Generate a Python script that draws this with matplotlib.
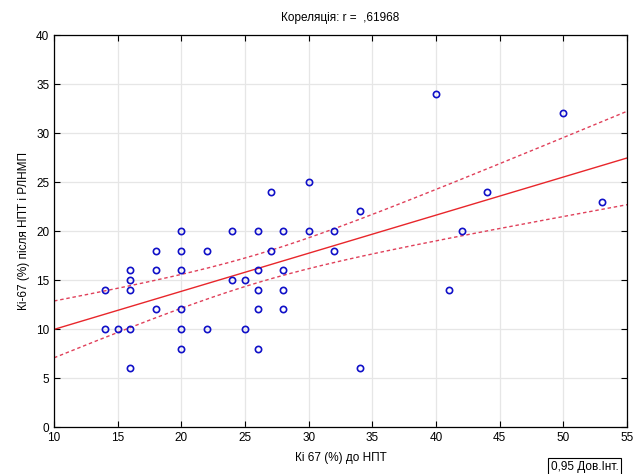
import matplotlib.pyplot as plt
import numpy as np

plt.rcParams['font.family'] = ['Liberation Sans', 'DejaVu Sans']

# Ki-67 before (x) and after (y)
ki_before = [14, 14, 15, 16, 16, 16, 16, 16, 18, 18, 18, 20, 20, 20, 20, 20, 20,
             22, 22, 24, 24, 25, 25, 26, 26, 26, 26, 26, 27, 27, 28, 28, 28, 28,
             30, 30, 32, 32, 34, 34, 40, 41, 42, 44, 50, 53]
ki_after = [14, 10, 10, 16, 15, 14, 10, 6, 18, 16, 12, 20, 18, 16, 12, 10, 8,
            18, 10, 20, 15, 15, 10, 20, 16, 14, 12, 8, 24, 18, 20, 16, 14, 12,
            25, 20, 20, 18, 22, 6, 34, 14, 20, 24, 32, 23]
title_text = 'Кореляція: r =  ,61968'

x = np.array(ki_before, dtype=float)
y = np.array(ki_after, dtype=float)
n = len(x)
b, a = np.polyfit(x, y, 1)
resid = y - (a + b * x)
s = np.sqrt(np.sum(resid ** 2) / (n - 2))
t = 2.0141  # t(0.975, n-2)

xs = np.linspace(10, 55, 200)
ys = a + b * xs
se = s * np.sqrt(1.0 / n + (xs - x.mean()) ** 2 / np.sum((x - x.mean()) ** 2))

fig = plt.figure(figsize=(6.36, 4.74), dpi=100)
ax = fig.add_axes([0.085, 0.099, 0.901, 0.827])

ax.grid(True, color='#e6e6e6', linewidth=0.9)
ax.set_axisbelow(True)
ax.plot(xs, ys, color='#e8262b', linewidth=1.0)
ax.plot(xs, ys + t * se, color='#e0405a', linewidth=1.0, linestyle=(0, (2.5, 2)))
ax.plot(xs, ys - t * se, color='#e0405a', linewidth=1.0, linestyle=(0, (2.5, 2)))
ax.plot(x, y, 'o', markerfacecolor='none', markeredgecolor='#1010c8',
        markersize=4.5, markeredgewidth=1.2, linestyle='none')

ax.set_xlim(10, 55)
ax.set_ylim(0, 40)
ax.set_xticks(range(10, 56, 5))
ax.set_yticks(range(0, 41, 5))
ax.tick_params(direction='in', top=True, right=True, labelsize=8.5, length=4)
for sp in ax.spines.values():
    sp.set_linewidth(0.9)

ax.set_title(title_text, fontsize=8.5, pad=10)
ax.set_xlabel('Кі 67 (%) до НПТ', fontsize=8.5, labelpad=6)
ax.set_ylabel('Кі-67 (%) після НПТ і РЛНМП', fontsize=8.5, labelpad=4)

fig.text(0.866, 0.008, '0,95 Дов.Інт.', fontsize=8.5,
         bbox=dict(boxstyle='square,pad=0.25', facecolor='white', edgecolor='black', linewidth=0.8))

fig.savefig('out.png', dpi=100)
